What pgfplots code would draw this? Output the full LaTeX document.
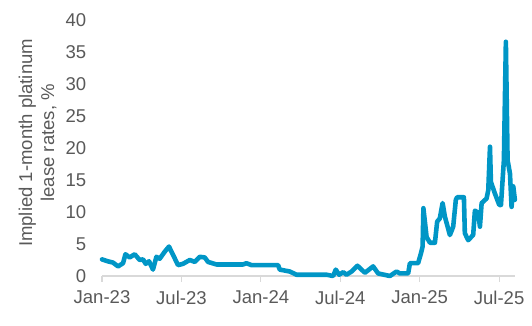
\documentclass[border=0pt]{standalone}
\usepackage{fontspec}
\setmainfont{Liberation Sans}
\usepackage{pgfplots}
\pgfplotsset{compat=1.18}
\definecolor{linecol}{RGB}{0,150,198}
\definecolor{txtgrey}{RGB}{89,89,89}
\definecolor{axgrey}{RGB}{217,217,217}
\begin{document}
\begin{tikzpicture}
\useasboundingbox (0,0) rectangle (532bp,326bp);
\begin{axis}[
  at={(102bp,50bp)}, anchor=south west,
  scale only axis, width=413bp, height=256bp,
  xmin=0, xmax=31.2, ymin=0, ymax=40,
  axis x line*=bottom, axis y line*=left,
  x axis line style={color=axgrey, line width=1.2pt, -},
  y axis line style={draw=none},
  xtick={0,6,12,18,24,30},
  xticklabels={Jan-23,Jul-23,Jan-24,Jul-24,Jan-25,Jul-25},
  ytick={0,5,...,40},
  xtick style={color=axgrey, line width=1.2pt, /pgfplots/major tick length=6bp},
  ytick style={draw=none},
  tick align=outside,
  xticklabel style={yshift=-7bp},
  yticklabel style={xshift=-8bp},
  every tick label/.append style={font=\fontsize{18.6}{22}\selectfont, text=txtgrey},
  /pgf/number format/assume math mode=true,
  ylabel={Implied 1-month platinum\\lease rates, \%},
  ylabel style={align=center, font=\fontsize{18.6}{22}\selectfont, text=txtgrey, at={(axis description cs:-0.156,0.52)}, anchor=center},
  clip=false,
]
\addplot[color=linecol, line width=4.6pt, line join=round, line cap=round] coordinates {
(0.00,2.6) (0.43,2.3) (0.83,2.1) (1.21,1.5) (1.59,2.0) (1.77,3.4) (2.09,2.9) (2.47,3.4)
(2.85,2.5) (3.10,2.6) (3.30,1.9) (3.55,2.3) (3.85,1.0) (4.11,3.0) (4.36,2.7) (4.74,3.8)
(5.06,4.6) (5.37,3.3) (5.74,1.7) (6.12,1.9) (6.63,2.5) (7.01,2.2) (7.38,3.0) (7.76,2.9)
(8.01,2.2) (8.65,1.8) (10.66,1.8) (10.91,2.0) (11.29,1.7) (13.30,1.7) (13.43,1.0) (14.19,0.7)
(14.69,0.2) (16.96,0.2) (17.46,0.0) (17.66,1.0) (17.91,0.2) (18.22,0.6) (18.47,0.2) (18.85,0.7)
(19.30,1.6) (19.86,0.5) (20.48,1.5) (20.86,0.4) (21.75,0.0) (22.25,0.7) (22.50,0.4) (23.13,0.4)
(23.26,2.0) (23.88,2.0) (24.09,3.5) (24.22,4.6) (24.28,10.6) (24.52,6.1) (24.77,5.2) (25.15,5.2)
(25.32,8.5) (25.52,9.0) (25.73,11.4) (25.90,9.3) (26.28,6.4) (26.53,7.7) (26.73,11.9) (26.83,12.3)
(27.34,12.3) (27.41,6.7) (27.66,5.6) (28.04,6.4) (28.17,10.2) (28.42,9.9) (28.55,7.7) (28.68,11.4)
(29.05,12.1) (29.18,13.4) (29.31,20.2) (29.38,14.7) (29.68,12.9) (30.01,11.1) (30.14,11.1) (30.36,18.1)
(30.51,36.6) (30.64,18.1) (30.82,16.0) (30.94,10.8) (31.07,14.0) (31.19,11.9)
};
\end{axis}
\end{tikzpicture}
\end{document}
